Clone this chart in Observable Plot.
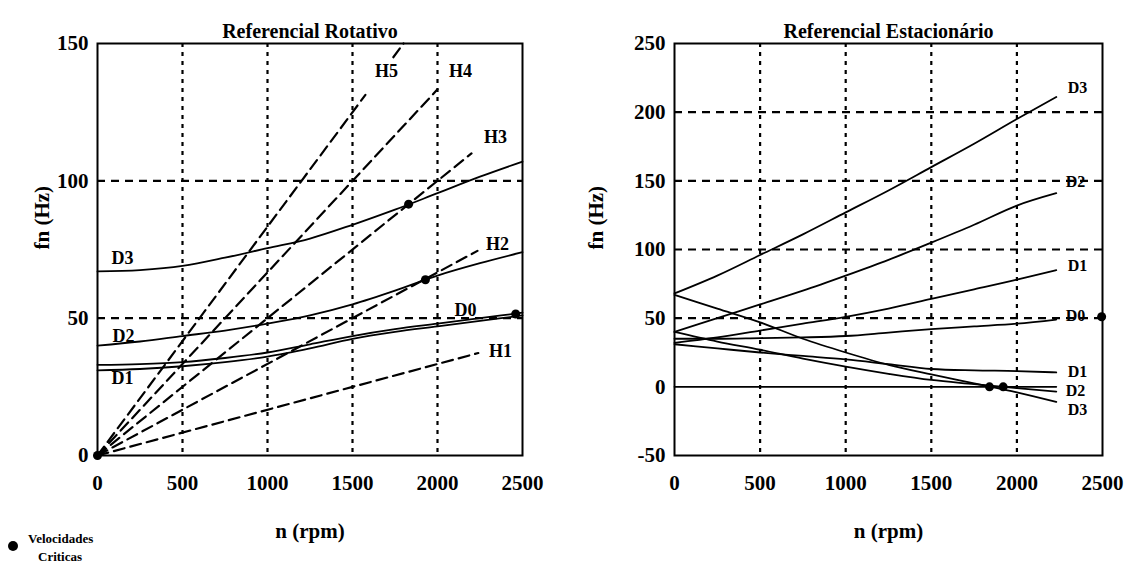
<!DOCTYPE html>
<html>
<head>
<meta charset="utf-8">
<script src="https://cdn.jsdelivr.net/npm/d3@7"></script>
<script src="https://cdn.jsdelivr.net/npm/@observablehq/plot@0.6"></script>
<style>
  html, body { margin: 0; padding: 0; background: #fff; }
  #wrap { position: relative; width: 1133px; height: 570px; overflow: hidden; font-family: "Liberation Serif", serif; }
  #left, #right { position: absolute; top: 0; }
  #left { left: 0; }
  #right { left: 573px; }
  #legend { position: absolute; left: 6px; top: 531px; font: bold 13px "Liberation Serif", serif; color: #000; }
  #legend .dot { position: absolute; left: 2px; top: 10px; width: 10px; height: 10px; border-radius: 50%; background: #000; }
  #legend .t1 { position: absolute; left: 22px; top: 0; white-space: nowrap; }
  #legend .t2 { position: absolute; left: 32px; top: 18px; white-space: nowrap; }
</style>
</head>
<body>
<div id="wrap">
  <div id="left"></div>
  <div id="right"></div>
  <div id="legend"><div class="dot"></div><div class="t1">Velocidades</div><div class="t2">Criticas</div></div>
</div>
<script>
// ---------- Data: Referencial Rotativo ----------
const nRot = [0, 250, 500, 750, 1000, 1250, 1500, 1750, 2000, 2250, 2500];
const rotD3 = [67, 67.5, 69, 72, 75.5, 79, 84, 89.5, 95.5, 101.5, 107];
const rotD2 = [40, 41.5, 43.5, 45.5, 48, 51, 55, 60, 65.5, 70, 74];
const rotD0 = [33, 33.3, 34, 35.5, 37.5, 40.5, 43.5, 46, 48, 50, 52];
const rotD1 = [31, 31.5, 32.5, 34, 36, 39, 42.5, 45, 47, 49, 51];
// harmonic excitation lines (dashed): segment start/end points
const harmSeg = ["H1", "H2", "H3", "H4", "H5", "H5b"];
const harmStartN = [0, 0, 0, 0, 0, 1740];
const harmStartF = [0, 0, 0, 0, 0, 145];
const harmEndN = [2240, 2235, 2200, 2000, 1576, 1800];
const harmEndF = [37.3, 74.5, 110, 133.3, 131.3, 150];
const critRotN = [0, 1830, 1929, 2460];
const critRotF = [0, 91.5, 64, 51.5];
const rotLabels = ["H5", "H4", "H3", "H2", "H1", "D0", "D3", "D2", "D1"];
const rotLabelN = [1700, 2135, 2341, 2353, 2371, 2165, 147, 153, 147];
const rotLabelF = [140, 140, 116, 77, 38, 53, 72, 43.6, 28];

// ---------- Data: Referencial Estacionario ----------
const nSta = [0, 250, 500, 750, 1000, 1250, 1500, 1750, 2000, 2230];
const staD3f = [68, 81, 96, 111, 127, 143, 160, 177, 195, 211];
const staD2f = [40, 50, 60, 70, 81, 92.5, 105, 118, 132, 141];
const staD1f = [32, 36, 41, 46, 51, 57, 64, 71, 78, 85];
const staD0 = [35, 35, 35.5, 36, 37, 39.5, 42, 44, 46, 49];
const staD1b = [31, 28, 25, 22.5, 20, 16.5, 13, 12, 11.5, 10.5];
const staD2b = [40, 33, 27, 20.5, 14.7, 9.5, 5, 2, -1, -3.5];
const staD3b = [67, 57, 47, 35, 25, 16, 9, 2.5, -4, -11];
const zeroLineN = [0, 2230];
const critStaN = [1840, 1920, 2495];
const critStaF = [0, 0, 51];
const staLabels = ["D3", "D2", "D1", "D0", "D1", "D2", "D3"];
const staLabelN = [2354, 2342, 2354, 2342, 2354, 2342, 2354];
const staLabelF = [218, 149, 88.4, 52, 11, -3, -17];

// ticks
const xTicks = [0, 500, 1000, 1500, 2000, 2500];
const yTicksRot = [0, 50, 100, 150];
const yTicksSta = [-50, 0, 50, 100, 150, 200, 250];
const xGrid = [500, 1000, 1500, 2000];
const yGridRot = [50, 100];
const yGridSta = [50, 100, 150, 200];

// ---------- helpers ----------
const FONT = "Liberation Serif";
function series(name, ns, fs) { return ns.map((n, i) => ({name, n, f: fs[i]})); }

const rotLines = [
  ...series("D3", nRot, rotD3), ...series("D2", nRot, rotD2),
  ...series("D0", nRot, rotD0), ...series("D1", nRot, rotD1)
];
const harmLines = harmSeg.flatMap((h, i) => [
  {name: h, n: harmStartN[i], f: harmStartF[i]},
  {name: h, n: harmEndN[i], f: harmEndF[i]}
]);
const critRot = critRotN.map((n, i) => ({n, f: critRotF[i]}));
const rotLab = rotLabels.map((t, i) => ({t, n: rotLabelN[i], f: rotLabelF[i]}));

const staLines = [
  ...series("D3f", nSta, staD3f), ...series("D2f", nSta, staD2f), ...series("D1f", nSta, staD1f),
  ...series("D0", nSta, staD0), ...series("D1b", nSta, staD1b), ...series("D2b", nSta, staD2b),
  ...series("D3b", nSta, staD3b), ...zeroLineN.map(n => ({name: "zero", n, f: 0}))
];
const critSta = critStaN.map((n, i) => ({n, f: critStaF[i]}));
const staLab = staLabels.map((t, i) => ({t, n: staLabelN[i], f: staLabelF[i]}));

function common(title, yTicks, yGrid, ylabDx) {
  return [
    Plot.ruleX(xGrid, {stroke: "#000", strokeWidth: 2.2, strokeDasharray: "4,5"}),
    Plot.ruleY(yGrid, {stroke: "#000", strokeWidth: 2.2, strokeDasharray: "8,6"}),
    Plot.axisX({ticks: xTicks, tickSize: 0, tickPadding: 20, fontSize: 21, fontWeight: "bold", label: null, tickFormat: d => String(d)}),
    Plot.axisY({ticks: yTicks, tickSize: 0, tickPadding: 9, fontSize: 21, fontWeight: "bold", label: null, tickFormat: d => String(d)}),
    Plot.text([title], {frameAnchor: "top", dy: -6, lineAnchor: "bottom", fontSize: 20, fontWeight: "bold", fontFamily: FONT}),
    Plot.text(["n (rpm)"], {frameAnchor: "bottom", dy: 82, fontSize: 21, fontWeight: "bold", fontFamily: FONT}),
    Plot.text(["fn (Hz)"], {frameAnchor: "left", dx: ylabDx, rotate: -90, fontSize: 21, fontWeight: "bold", fontFamily: FONT})
  ];
}

const left = Plot.plot({
  width: 573, height: 570,
  marginLeft: 97, marginRight: 51, marginTop: 43, marginBottom: 115,
  style: {fontFamily: FONT, background: "#fff", color: "#000", overflow: "visible"},
  x: {domain: [0, 2500]},
  y: {domain: [0, 150]},
  marks: [
    ...common("Referencial Rotativo", yTicksRot, yGridRot, -55),
    Plot.line(harmLines, {x: "n", y: "f", z: "name", stroke: "#000", strokeWidth: 2.2, strokeDasharray: "11,6"}),
    Plot.line(rotLines, {x: "n", y: "f", z: "name", stroke: "#000", strokeWidth: 1.8, curve: "monotone-x"}),
    Plot.dot(critRot, {x: "n", y: "f", r: 4.5, fill: "#000"}),
    Plot.text(rotLab, {x: "n", y: "f", text: "t", fontSize: 18, fontWeight: "bold", fontFamily: FONT, fill: "#000"}),
    Plot.frame({stroke: "#000", strokeWidth: 2})
  ]
});

const right = Plot.plot({
  width: 560, height: 570,
  marginLeft: 101, marginRight: 31, marginTop: 43, marginBottom: 115,
  style: {fontFamily: FONT, background: "#fff", color: "#000", overflow: "visible"},
  x: {domain: [0, 2500]},
  y: {domain: [-50, 250]},
  marks: [
    ...common("Referencial Estacionário", yTicksSta, yGridSta, -78),
    Plot.line(staLines, {x: "n", y: "f", z: "name", stroke: "#000", strokeWidth: 1.8, curve: "monotone-x"}),
    Plot.dot(critSta, {x: "n", y: "f", r: 4.5, fill: "#000"}),
    Plot.text(staLab, {x: "n", y: "f", text: "t", fontSize: 16, fontWeight: "bold", fontFamily: FONT, fill: "#000"}),
    Plot.frame({stroke: "#000", strokeWidth: 2})
  ]
});

document.getElementById("left").appendChild(left);
document.getElementById("right").appendChild(right);
</script>
</body>
</html>
